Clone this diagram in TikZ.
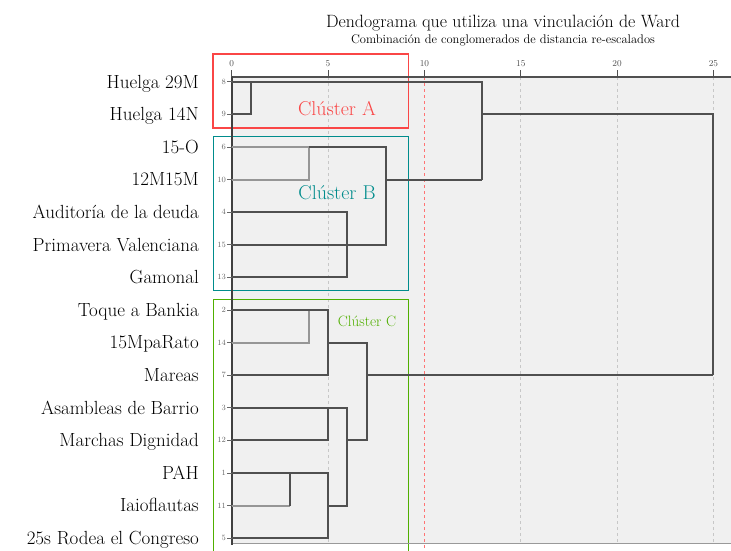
\documentclass[tikz,border=0pt]{standalone}
\usepackage{tikz}
\usetikzlibrary{positioning}

\definecolor{clusterred}{RGB}{250,70,70}
\definecolor{clusterteal}{RGB}{0,140,140}
\definecolor{clustergreen}{RGB}{80,175,0}
\definecolor{panelgray}{RGB}{240,240,240}
\definecolor{linkdark}{RGB}{80,80,80}
\definecolor{linklight}{RGB}{150,150,150}

\begin{document}
\begin{tikzpicture}[
    x=1pt, y=-1pt,
    leaf/.style={anchor=base east, inner sep=0pt, font=\fontsize{19}{21}\selectfont},
    caseno/.style={anchor=east, inner sep=0pt, text=black!60, font=\fontsize{8}{9}\selectfont},
    ticklabel/.style={anchor=base, inner sep=0pt, text=black!70, font=\fontsize{9}{10}\selectfont},
    link/.style={draw=linkdark, line width=2pt},
    lightlink/.style={draw=linklight, line width=2pt},
    gridline/.style={draw=black!22, dashed, line width=0.8pt},
    cluster/.style={draw, line width=1pt}
]
\useasboundingbox (0,0) rectangle (731,550);

% title
\node [font=\fontsize{17.8}{19}\selectfont, inner sep=0pt] (title) at (503,23) {Dendograma que utiliza una vinculación de Ward};
\node [font=\fontsize{12.5}{14}\selectfont, inner sep=0pt, below=3pt of title] (subtitle) {Combinación de conglomerados de distancia re-escalados};

% panel and grid
\fill [panelgray] (231.7,77) rectangle (731,543.5);
\foreach \v in {5,15,20,25}
    \path [gridline] (231.7+19.27*\v,77) -- (231.7+19.27*\v,543);
\draw [red!55, dashed, line width=0.6pt] (424.4,77) -- (424.4,550);

% cluster boxes
\draw [cluster, clusterred, line width=1.4pt] (213,54) rectangle (408.3,128);
\draw [cluster, clusterteal] (213.3,136.7) rectangle (408.3,290);
\draw [cluster, clustergreen] (213.3,560) -- (213.3,299.3) -- (408.3,299.3) -- (408.3,560);

% axes
\draw [linkdark, line width=2pt] (231.7,77) -- (731,77);
\draw [black!40, line width=1.5pt] (231.7,543.5) -- (731,543.5);
\draw [black!75, line width=2pt] (231.7,76) -- (231.7,545);
\foreach \v in {0,5,...,25} {
    \draw [linkdark, line width=1pt] (231.7+19.27*\v,70) -- (231.7+19.27*\v,77);
    \node [ticklabel] (tick\v) at (231.7+19.27*\v,66) {\v};
}

% case numbers
\foreach \n [count=\i from 0] in {8,9,6,10,4,15,13,2,14,7,3,12,1,11,5} {
    \draw [black!60, line width=0.8pt] (227,81.7+32.6*\i) -- (231.7,81.7+32.6*\i);
    \node [caseno] (case\n) at (226,81.7+32.6*\i) {\n};
}

% leaves
\node [leaf] (huelga29m) at (199,88) {Huelga 29M};
\node [leaf] (huelga14n) at (199,120.6) {Huelga 14N};
\node [leaf] (quinceo) at (199,153.2) {15-O};
\node [leaf] (doceM) at (199,185.8) {12M15M};
\node [leaf] (auditoria) at (199,218.4) {Auditoría de la deuda};
\node [leaf] (primavera) at (199,251) {Primavera Valenciana};
\node [leaf] (gamonal) at (199,283.6) {Gamonal};
\node [leaf] (bankia) at (199,316.2) {Toque a Bankia};
\node [leaf] (parato) at (199,348.8) {15MpaRato};
\node [leaf] (mareas) at (199,381.4) {Mareas};
\node [leaf] (asambleas) at (199,414) {Asambleas de Barrio};
\node [leaf] (marchas) at (199,446.6) {Marchas Dignidad};
\node [leaf] (pah) at (199,479.2) {PAH};
\node [leaf] (iaio) at (199,511.8) {Iaioflautas};
\node [leaf] (rodea) at (199,544.4) {25s Rodea el Congreso};

% dendrogram
\begin{scope}[shift={(231.7pt,-81.7pt)}, x=19.27pt, y=-32.6pt]
    % cluster A
    \path [link] (0,1) -- (1,1) -- (1,0);
    \path [link] (0,0) -- (13,0) -- (13,3);
    \path [link] (13,1) -- (25,1) -- (25,9);
    % cluster B
    \path [lightlink] (0,3) -- (4,3) -- (4,2) -- (0,2);
    \path [link] (4,2) -- (8,2) -- (8,5) -- (0,5);
    \path [link] (8,3) -- (13,3);
    \path [link] (0,4) -- (6,4) -- (6,6) -- (0,6);
    % cluster C
    \path [lightlink] (0,8) -- (4,8) -- (4,7);
    \path [link] (0,7) -- (5,7) -- (5,9) -- (0,9);
    \path [link] (5,8) -- (7,8) -- (7,11) -- (6,11);
    \path [link] (0,10) -- (6,10) -- (6,13) -- (5,13);
    \path [link] (5,10) -- (5,11) -- (0,11);
    \path [link] (0,12) -- (5,12) -- (5,14) -- (0,14);
    \path [lightlink] (0,13) -- (3.05,13);
    \path [link] (3.05,13) -- (3.05,12);
    \path [link] (7,9) -- (25,9);
\end{scope}

% cluster names
\node [text=clusterred, font=\fontsize{20}{22}\selectfont] (nameA) at (337,109) {Clúster A};
\node [text=clusterteal, font=\fontsize{20}{22}\selectfont] (nameB) at (337,193) {Clúster B};
\node [text=clustergreen, font=\fontsize{15}{17}\selectfont] (nameC) at (367,321) {Clúster C};

\end{tikzpicture}
\end{document}
